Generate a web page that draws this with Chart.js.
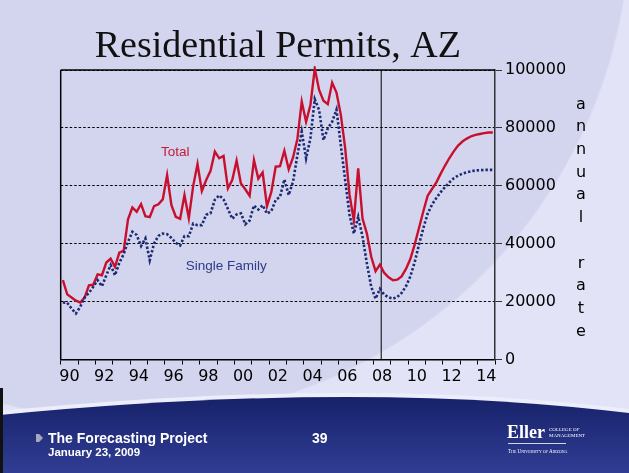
<!DOCTYPE html>
<html><head><meta charset="utf-8">
<script src="https://cdn.jsdelivr.net/npm/chart.js@4.4.1/dist/chart.umd.min.js"></script>
<style>
html,body{margin:0;padding:0}
body{width:629px;height:473px;position:relative;overflow:hidden;
 background:radial-gradient(circle 500px at 130px -80px,#d3d4ee 499px,#e2e3f7 501px);}
#chart{position:absolute;left:0;top:0;z-index:3}
#edge{position:absolute;left:0;top:388px;width:3px;height:85px;background:#111;z-index:4}
#glow{position:absolute;left:0;top:390px;width:629px;height:83px;background:#eceefb;
 clip-path:path('M0 21 Q 360 -14 629 19 L629 83 L0 83 Z');z-index:1}
#band{position:absolute;left:0;top:397px;width:629px;height:76px;
 background:linear-gradient(#17226a,#303d93);
 clip-path:path('M0 18 Q 360 -17 629 16 L629 76 L0 76 Z');z-index:2}
.ft{position:absolute;color:#fff;font-family:"Liberation Sans",Arial,sans-serif;font-weight:bold;white-space:nowrap;z-index:4}
#bullet{position:absolute;left:36px;top:434px;width:7px;height:8px;background:#a5a7be;
 clip-path:polygon(0 0,45% 0,100% 50%,45% 100%,0 100%);z-index:4}
#rate{position:absolute;left:571px;top:92.6px;width:20px;text-align:center;
 font:16px "DejaVu Sans",sans-serif;line-height:22.7px;color:#000;z-index:4}
</style></head>
<body>
<div id="edge"></div>
<div id="glow"></div>
<div id="band"></div>
<div id="bullet"></div>
<div class="ft" style="left:48px;top:429.7px;font-size:14px;line-height:16px">The Forecasting Project</div>
<div class="ft" style="left:48px;top:444.3px;font-size:11.5px;line-height:16px">January 23, 2009</div>
<div class="ft" style="left:312px;top:429.7px;font-size:14px;line-height:16px">39</div>
<div class="ft" style="left:507px;top:422.5px;font:bold 18px 'Liberation Serif',serif;line-height:18px">Eller</div>
<div class="ft" style="left:549px;top:427px;font:5px 'Liberation Serif',serif;line-height:5px">COLLEGE OF</div>
<div class="ft" style="left:549px;top:433px;font:5px 'Liberation Serif',serif;line-height:5px">MANAGEMENT</div>
<div style="position:absolute;left:508px;top:443px;width:58px;height:1px;background:rgba(255,255,255,0.8);z-index:4"></div>
<div class="ft" style="left:508px;top:448px;font:6.5px 'Liberation Serif',serif;font-variant:small-caps;line-height:6.5px;transform-origin:0 0;transform:scaleX(0.78)">The University of Arizona</div>
<div id="rate"></div>
<canvas id="chart" width="629" height="473"></canvas>
<script>
// ---- data ----
const years = [1990,1991,1992,1993,1994,1995,1996,1997,1998,1999,2000,2001,2002,
               2003,2004,2005,2006,2007,2008,2009,2010,2011,2012,2013,2014];
const quarterOffsets = [0.125,0.375,0.625,0.875];
const tickLabels = ['90','92','94','96','98','00','02','04','06','08','10','12','14'];
const axisTitleLetters = ['a','n','n','u','a','l','','r','a','t','e'];
const forecastStart = 2008.45;

const total = [
 27400,22500,21400,20300, 19700,21400,25600,25800, 29400,29100,33500,34800,
 32000,36900,37600,48400, 52500,51000,53700,49500, 49200,53000,53600,55300,
 63700,53300,49300,48600, 56800,48800,59900,67500, 58200,62000,65200,71800,
 69500,70300,59100,62000, 68700,60800,58800,56500, 68900,62500,64600,53000,
 57900,66600,66800,72100, 65700,69800,76200,89100, 82100,87900,100500,93100,
 89400,88200,95600,92200, 84500,73000,57000,48000, 66000,48700,43500,35500,
 30500,32800,29900,28400, 27400,27600,28700,31300, 34700,39700,45400,51200,
 56600,58900,61200,64200, 67000,69600,71900,73900, 75300,76300,77100,77600,
 77900,78200,78400,78400
];
const singleFamily = [
 19700,19600,17600,15900, 18200,21400,23000,25100, 27400,25300,29100,32600,
 29100,33400,36400,40700, 44100,43000,39200,41800, 34300,40100,42700,43500,
 43300,42000,40300,39400, 42600,42600,46900,46400, 46400,50000,50500,55200,
 56700,55300,52000,48600, 50100,50500,46700,48000, 53200,51800,53300,50400,
 51300,55100,56200,62200, 56800,61400,70600,78700, 69500,76400,89900,86200,
 75800,79800,82100,86300, 74000,62000,50000,43500, 49300,42400,33200,25100,
 21000,24400,22400,21500, 21000,21600,23000,25300, 28700,33600,39700,45400,
 50400,53500,55800,57800, 59600,61200,62600,63500, 64200,64700,65000,65300,
 65400,65500,65500,65500
];
// ---- build ----
document.getElementById('rate').innerHTML = axisTitleLetters.map(c => c || '&nbsp;').join('<br>');
const xs = [];
years.forEach(y => quarterOffsets.forEach(q => xs.push(y + q)));
const pts = arr => arr.map((v, i) => ({x: xs[i], y: v}));
const halfYearTicks = [];
for (let y = years[0]; y <= years[years.length - 1] + 1; y++) {
  halfYearTicks.push(y);
  if (y <= years[years.length - 1]) halfYearTicks.push(y + 0.5);
}
const RED = '#c8102e', BLUE = '#1b2a72';
const seriesLabels = [
  {text: 'Total', x: 1995.77, y: 71600, color: '#c41a35'},
  {text: 'Single Family', x: 1997.2, y: 32200, color: '#2d3c88'}
];
const decor = {
  id: 'decor',
  beforeDatasetsDraw(chart) {
    const {ctx, chartArea: a, scales: {x}} = chart;
    ctx.save();
    ctx.strokeStyle = '#000';
    ctx.lineWidth = 1.5;
    ctx.beginPath();
    ctx.moveTo(a.left, a.top); ctx.lineTo(a.right, a.top);
    ctx.moveTo(a.left, a.top); ctx.lineTo(a.left, a.bottom);
    ctx.stroke();
    const fx = x.getPixelForValue(forecastStart);
    ctx.lineWidth = 1;
    ctx.beginPath(); ctx.moveTo(fx, a.top); ctx.lineTo(fx, a.bottom); ctx.stroke();
    ctx.restore();
  },
  afterDatasetsDraw(chart) {
    const {ctx, scales: {x, y}} = chart;
    ctx.save();
    ctx.font = '13.5px "Liberation Sans", Arial, sans-serif';
    ctx.textAlign = 'left';
    ctx.textBaseline = 'middle';
    seriesLabels.forEach(l => {
      ctx.fillStyle = l.color;
      ctx.fillText(l.text, x.getPixelForValue(l.x), y.getPixelForValue(l.y));
    });
    ctx.restore();
  }
};
new Chart(document.getElementById('chart'), {
  type: 'line',
  data: {
    datasets: [
      {label: 'Single Family', data: pts(singleFamily), borderColor: BLUE, borderWidth: 2.6,
       borderDash: [2.4, 2], pointRadius: 0, tension: 0, clip: 4},
      {label: 'Total', data: pts(total), borderColor: RED, borderWidth: 2.4,
       pointRadius: 0, tension: 0, clip: 4}
    ]
  },
  options: {
    responsive: false,
    devicePixelRatio: 1,
    animation: false,
    layout: {padding: {left: 60.7, right: 64, top: 0, bottom: 83.5}},
    plugins: {
      legend: {display: false},
      tooltip: {enabled: false},
      title: {
        display: true, text: 'Residential Permits, AZ', fullSize: false,
        color: '#111', font: {family: '"Liberation Serif", "Times New Roman", serif', size: 38, weight: 'normal', lineHeight: 1},
        padding: {top: 28, bottom: 4}
      }
    },
    scales: {
      x: {
        type: 'linear', position: 'bottom', min: years[0], max: years[years.length - 1] + 1,
        afterBuildTicks: s => { s.ticks = halfYearTicks.map(v => ({value: v})); },
        afterFit: s => { s.height = 30; },
        ticks: {
          autoSkip: false, maxRotation: 0, minRotation: 0, padding: 3, color: '#000',
          font: {family: '"DejaVu Sans", sans-serif', size: 16},
          callback: v => {
            const k = (v - years[0] - 0.5) / 2;
            return Number.isInteger(k) ? tickLabels[k] : '';
          }
        },
        grid: {
          drawOnChartArea: false, drawTicks: true, tickLength: 5, tickWidth: 1,
          color: 'rgba(0,0,0,0)',
          tickColor: c => (c.tick && Number.isInteger(c.tick.value)) ? '#000' : 'rgba(0,0,0,0)'
        },
        border: {display: true, color: '#000', width: 1.5}
      },
      y: {
        position: 'right', min: 0, max: 100000,
        afterFit: s => { s.width = 70; },
        ticks: {
          stepSize: 20000, padding: 3, color: '#000',
          font: {family: '"DejaVu Sans", sans-serif', size: 16},
          callback: v => String(v)
        },
        grid: {color: '#000', lineWidth: 1, tickLength: 7, tickColor: '#333', tickWidth: 1},
        border: {display: true, color: '#333', width: 1.5, dash: [2.5, 2]}
      }
    }
  },
  plugins: [decor]
});
</script>
</body></html>
